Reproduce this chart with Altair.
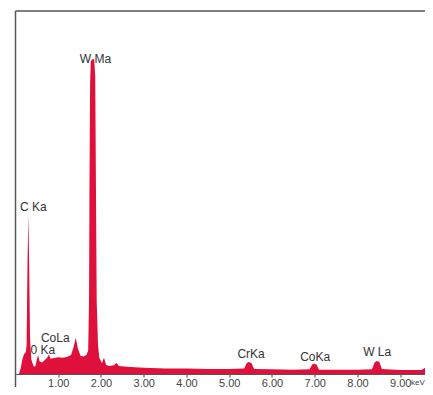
import altair as alt
import pandas as pd

# Spectrum (energy in keV, counts)
energy = [0.00, 0.08, 0.12, 0.16, 0.20, 0.24, 0.26, 0.28, 0.30, 0.32, 0.34, 0.37,
          0.42, 0.46, 0.50, 0.53, 0.56, 0.62, 0.68, 0.74, 0.78, 0.82, 0.90, 1.00,
          1.10, 1.20, 1.30, 1.36, 1.41, 1.46, 1.52, 1.58, 1.66, 1.70, 1.72, 1.73,
          1.745, 1.76, 1.79, 1.84, 1.865, 1.88, 1.90, 1.93, 1.96, 2.02, 2.07, 2.12,
          2.20, 2.30, 2.36, 2.42, 2.60, 3.00, 3.50, 4.00, 4.50, 5.00, 5.35, 5.41,
          5.46, 5.52, 5.58, 6.00, 6.50, 6.88, 6.94, 6.99, 7.04, 7.10, 7.50, 8.00,
          8.34, 8.40, 8.45, 8.51, 8.57, 9.00, 9.50, 9.62, 9.68, 9.75, 10.00]
counts = [0, 0, 15, 40, 55, 60, 80, 300, 440, 300, 100, 40,
          22, 20, 40, 52, 35, 32, 38, 45, 54, 42, 44, 46,
          45, 47, 52, 75, 100, 70, 50, 48, 52, 65, 200, 500,
          800, 860, 867, 867, 820, 550, 200, 80, 45, 30, 45, 25,
          22, 24, 30, 22, 20, 17, 15, 15, 14, 14, 15, 30,
          33, 30, 14, 13, 12, 13, 26, 28, 26, 12, 12, 12,
          13, 32, 36, 34, 14, 11, 11, 20, 22, 14, 10]

# Peak labels
label_text = ["W Ma", "C Ka", "CoLa", "0 Ka", "CrKa", "CoKa", "W La"]
label_x = [1.87, 0.415, 0.93, 0.64, 5.51, 7.01, 8.46]
label_y = [867, 459, 100, 65, 54, 46, 60]

ticks = [1, 2, 3, 4, 5, 6, 7, 8, 9]

spec = pd.DataFrame({"keV": energy, "counts": counts})
labels = pd.DataFrame({"keV": label_x, "counts": label_y, "text": label_text})

W = 409.5
H = 363
xscale = alt.Scale(domain=[0, 9.579], nice=False, zero=False)
yscale = alt.Scale(domain=[0, 1000], nice=False)

area = alt.Chart(spec).mark_area(
    color="#e0103c", interpolate="linear", clip=True
).encode(
    x=alt.X("keV:Q", scale=xscale,
            axis=alt.Axis(values=ticks, format=".2f", title="keV",
                          titleX=W - 14.5, titleY=8, titleAlign="left",
                          titleBaseline="middle", titleFontWeight="normal",
                          titleFontSize=8, titleColor="#444",
                          tickSize=3, tickColor="#444", domainColor="#555",
                          domainWidth=1.2,
                          labelFontSize=11, labelColor="#444", labelPadding=0,
                          labelFont="Liberation Sans", titleFont="Liberation Sans",
                          grid=False)),
    y=alt.Y("counts:Q", scale=yscale, axis=None),
)

text = alt.Chart(labels).mark_text(
    font="Liberation Sans", fontSize=12, color="#333", align="center", baseline="middle"
).encode(
    x=alt.X("keV:Q", scale=xscale),
    y=alt.Y("counts:Q", scale=yscale),
    text="text:N",
)

frame = pd.DataFrame({"a": [0]})
left = alt.Chart(frame).mark_rule(color="#555", strokeWidth=1.5).encode(
    x=alt.value(0), y=alt.value(0), y2=alt.value(H + 13)
)
top = alt.Chart(frame).mark_rule(color="#555", strokeWidth=1.5).encode(
    x=alt.value(0), x2=alt.value(W), y=alt.value(0)
)

chart = alt.layer(area, text, left, top).properties(
    width=W, height=H,
    autosize=alt.AutoSizeParams(type="none"),
    padding={"left": 7.5, "top": 3, "right": 0, "bottom": 13},
).configure_view(stroke=None)

chart.save("out.html", embed_options={"renderer": "svg", "actions": False})
